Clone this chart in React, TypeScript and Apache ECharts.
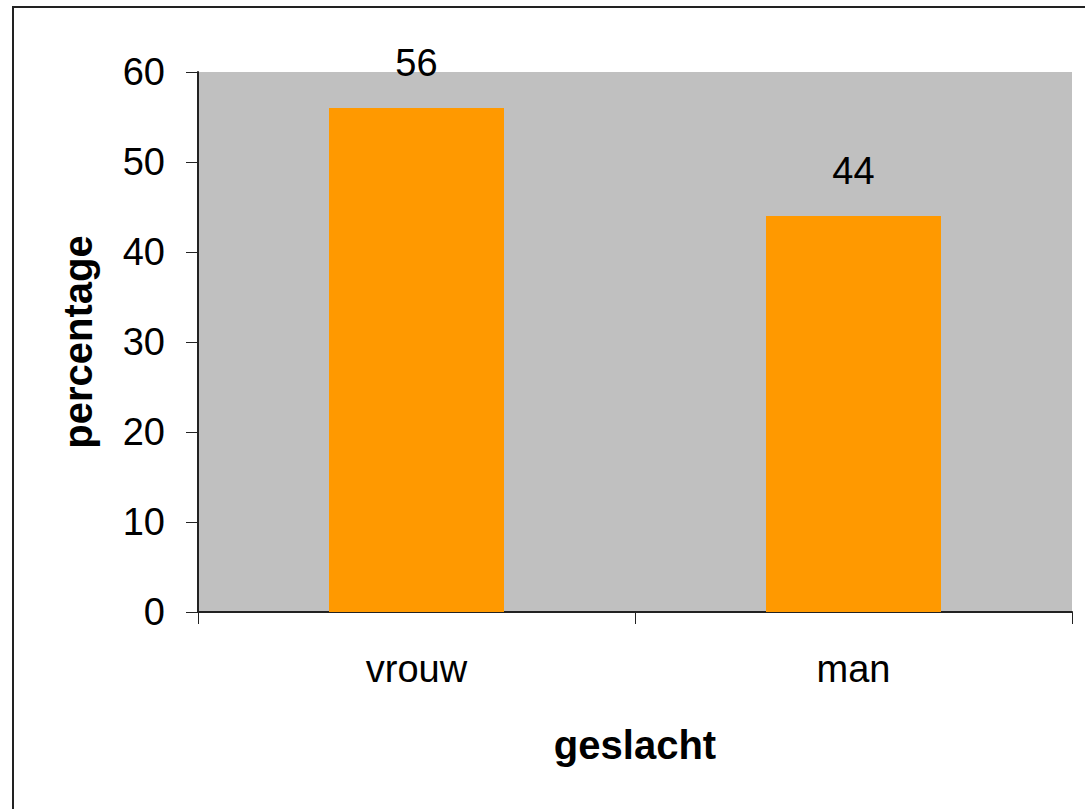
import React, { useEffect, useRef } from "react";
import * as echarts from "echarts";

const categories = ["vrouw", "man"];
const values = [56, 44];
const yTicks = { min: 0, max: 60, interval: 10 };
const xName = "geslacht";
const yName = "percentage";

export default function App() {
  const ref = useRef<HTMLDivElement>(null);
  useEffect(() => {
    if (!ref.current) return;
    const chart = echarts.init(ref.current, null, { renderer: "svg" });
    const font = "'Liberation Sans', Arial, sans-serif";
    chart.setOption({
      animation: false,
      backgroundColor: "#ffffff",
      textStyle: { fontFamily: font, color: "#000" },
      graphic: [
        {
          type: "rect",
          shape: { x: 13, y: 7, width: 1200, height: 900 },
          style: { fill: "none", stroke: "#222", lineWidth: 2 },
          silent: true,
        },
      ],
      grid: {
        left: 198,
        top: 72,
        right: 13,
        bottom: 197,
        show: true,
        backgroundColor: "#C0C0C0",
        borderWidth: 0,
      },
      xAxis: {
        type: "category",
        data: categories,
        name: xName,
        nameLocation: "middle",
        nameGap: 113,
        nameTextStyle: { fontFamily: font, fontSize: 40, fontWeight: "bold", color: "#000" },
        axisLine: { show: true, lineStyle: { color: "#222", width: 2 } },
        axisTick: { show: true, alignWithLabel: false, length: 12, lineStyle: { color: "#222", width: 1 } },
        axisLabel: { fontFamily: font, fontSize: 38, color: "#000", margin: 38 },
        splitLine: { show: false },
      },
      yAxis: {
        type: "value",
        min: yTicks.min,
        max: yTicks.max,
        interval: yTicks.interval,
        name: yName,
        nameLocation: "middle",
        nameGap: 100,
        nameRotate: 90,
        nameTextStyle: { fontFamily: font, fontSize: 40, fontWeight: "bold", color: "#000" },
        axisLine: { show: true, lineStyle: { color: "#222", width: 2 } },
        axisTick: { show: true, length: 12, lineStyle: { color: "#222", width: 1 } },
        axisLabel: { fontFamily: font, fontSize: 38, color: "#000", margin: 33 },
        splitLine: { show: false },
      },
      series: [
        {
          type: "bar",
          data: values,
          barWidth: 175,
          itemStyle: { color: "#FF9900" },
          label: {
            show: true,
            position: "top",
            distance: 26,
            fontFamily: font,
            fontSize: 38,
            color: "#000",
          },
        },
      ],
    });
    return () => chart.dispose();
  }, []);
  return (
    <div
      ref={ref}
      style={{ position: "fixed", left: 0, top: 0, width: 1085, height: 809 }}
    />
  );
}
